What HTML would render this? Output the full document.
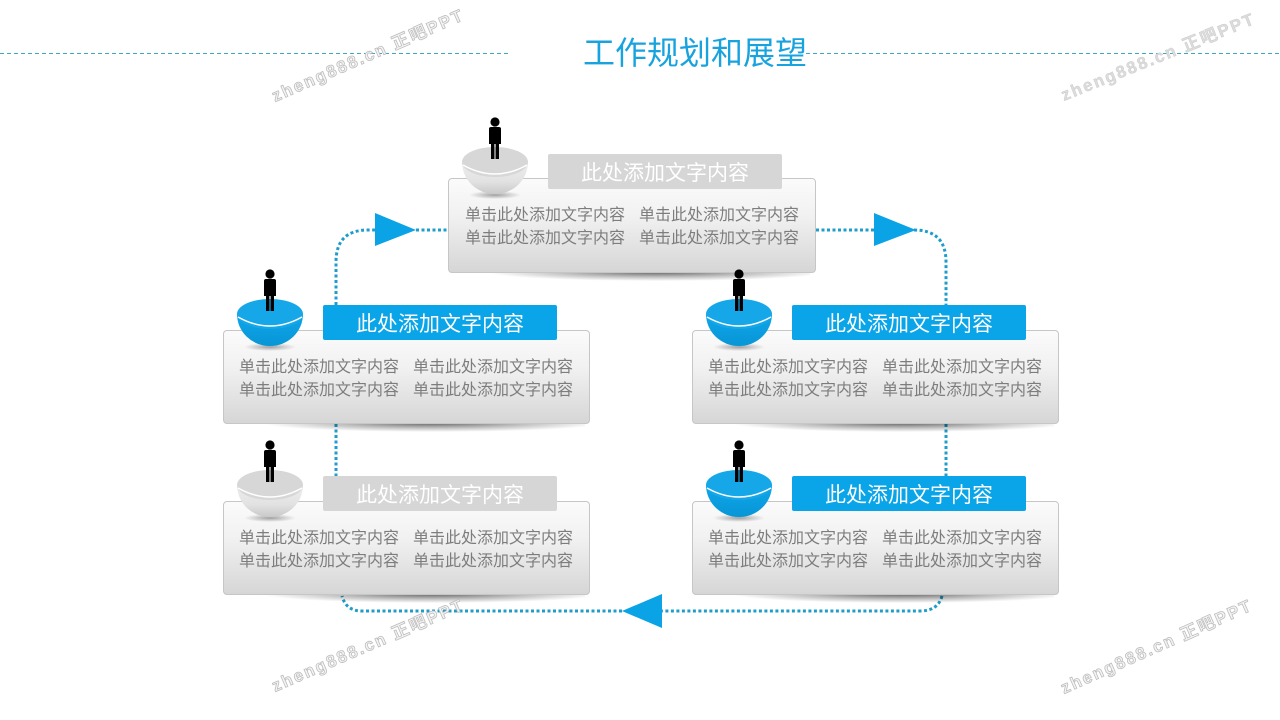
<!DOCTYPE html>
<html><head><meta charset="utf-8">
<style>
html,body{margin:0;padding:0;background:#fff;}
#stage{position:relative;width:1280px;height:720px;overflow:hidden;background:#fff;font-family:"Liberation Sans","Noto Sans CJK SC",sans-serif;}
.box{position:absolute;width:366px;height:94px;border:1px solid #c6c6c6;border-radius:4px;background:linear-gradient(#fbfbfb 0%,#f1f1f1 40%,#d6d6d6 100%);box-sizing:border-box;z-index:2;}
.shadow{position:absolute;height:9px;z-index:1;background:radial-gradient(ellipse 50% 100% at 55% 0%,rgba(0,0,0,0.6) 0%,rgba(0,0,0,0.25) 55%,rgba(0,0,0,0) 100%);}
.hdr{position:absolute;width:234px;height:35px;border-radius:2px;color:#fff;font-size:21px;line-height:39px;text-align:center;z-index:3;font-family:"Liberation Sans","Noto Sans CJK SC",sans-serif;}
.blue{background:#0aa5e8;}
.gray{background:#d6d6d6;}
.txt{position:absolute;color:#7d7d7d;font-size:16px;line-height:23px;white-space:nowrap;z-index:3;font-family:"Liberation Sans","Noto Sans CJK SC",sans-serif;}
.title{position:absolute;left:583px;top:34px;font-size:32px;line-height:38px;color:#18a3de;white-space:nowrap;font-family:"Liberation Sans","Noto Sans CJK SC",sans-serif;}
svg{position:absolute;left:0;top:0;}
</style></head>
<body><div id="stage">

<svg width="1280" height="720" style="z-index:0">
  <g stroke="#3ca8c6" stroke-width="1" stroke-dasharray="4 3" fill="none">
    <line x1="0" y1="53.5" x2="510" y2="53.5"/>
    <line x1="806" y1="53.5" x2="1280" y2="53.5"/>
  </g>
  <g stroke="#1f9dca" stroke-width="3" stroke-dasharray="3 2.5" fill="none">
    <path d="M336,305 L336,262 Q336,230 368,230 L378,230"/>
    <path d="M416,230 L448,230"/>
    <path d="M816,230 L876,230"/>
    <path d="M914,230 Q946,230 946,262 L946,305"/>
    <path d="M336,424 L336,476"/>
    <path d="M946,424 L946,476"/>
    <path d="M942,596 Q938,611 920,611 L662,611"/>
    <path d="M622,611 L362,611 Q346,611 342,596"/>
  </g>
  <g fill="#0aa3e6">
    <polygon points="375,213 416,230 375,246"/>
    <polygon points="874,213 916,230 874,246"/>
    <polygon points="662,594 622,611 662,628"/>
  </g>
</svg>

<div class="title">工作规划和展望</div>

<div class="shadow" style="left:470px;top:272px;width:340px;"></div>
<div class="box" style="left:448px;top:178px;width:368px;height:95px;"></div>
<div class="hdr gray" style="left:548px;top:154px;">此处添加文字内容</div>
<div class="txt" style="left:465px;top:204px;">单击此处添加文字内容<br>单击此处添加文字内容</div>
<div class="txt" style="left:639px;top:204px;">单击此处添加文字内容<br>单击此处添加文字内容</div>

<div class="shadow" style="left:245px;top:423px;width:340px;"></div>
<div class="box" style="left:223px;top:330px;width:367px;"></div>
<div class="hdr blue" style="left:323px;top:305px;">此处添加文字内容</div>
<div class="txt" style="left:239px;top:356px;">单击此处添加文字内容<br>单击此处添加文字内容</div>
<div class="txt" style="left:413px;top:356px;">单击此处添加文字内容<br>单击此处添加文字内容</div>

<div class="shadow" style="left:714px;top:423px;width:340px;"></div>
<div class="box" style="left:692px;top:330px;width:367px;"></div>
<div class="hdr blue" style="left:792px;top:305px;">此处添加文字内容</div>
<div class="txt" style="left:708px;top:356px;">单击此处添加文字内容<br>单击此处添加文字内容</div>
<div class="txt" style="left:882px;top:356px;">单击此处添加文字内容<br>单击此处添加文字内容</div>

<div class="shadow" style="left:245px;top:594px;width:340px;"></div>
<div class="box" style="left:223px;top:501px;width:367px;"></div>
<div class="hdr gray" style="left:323px;top:476px;">此处添加文字内容</div>
<div class="txt" style="left:239px;top:527px;">单击此处添加文字内容<br>单击此处添加文字内容</div>
<div class="txt" style="left:413px;top:527px;">单击此处添加文字内容<br>单击此处添加文字内容</div>

<div class="shadow" style="left:714px;top:594px;width:340px;"></div>
<div class="box" style="left:692px;top:501px;width:367px;"></div>
<div class="hdr blue" style="left:792px;top:476px;">此处添加文字内容</div>
<div class="txt" style="left:708px;top:527px;">单击此处添加文字内容<br>单击此处添加文字内容</div>
<div class="txt" style="left:882px;top:527px;">单击此处添加文字内容<br>单击此处添加文字内容</div>

<svg width="1280" height="720" style="z-index:4">
  <defs>
    <linearGradient id="gb" x1="0" y1="0" x2="0" y2="1">
      <stop offset="0" stop-color="#eeeeee"/>
      <stop offset="0.6" stop-color="#e2e2e2"/>
      <stop offset="1" stop-color="#c9c9c9"/>
    </linearGradient>
    <linearGradient id="bb" x1="0" y1="0" x2="0" y2="1">
      <stop offset="0" stop-color="#0ea6ea"/>
      <stop offset="1" stop-color="#0896d6"/>
    </linearGradient>
    <radialGradient id="bs" cx="0.5" cy="0.5" r="0.5">
      <stop offset="0" stop-color="rgba(0,0,0,0.35)"/>
      <stop offset="1" stop-color="rgba(0,0,0,0)"/>
    </radialGradient>
    <g id="person">
      <circle cx="0" cy="-40" r="4.6"/>
      <path d="M-6,-33 Q-6,-35 -4,-35 L4,-35 Q6,-35 6,-33 L6,-18 L-6,-18 Z"/>
      <rect x="-4" y="-19" width="3.4" height="16"/>
      <rect x="0.6" y="-19" width="3.4" height="16"/>
    </g>
  </defs>

  <g transform="translate(495,162)">
    <ellipse cx="0" cy="33" rx="26" ry="4" fill="url(#bs)"/>
    <path d="M-33,0 A33,32 0 0 0 33,0 Z" fill="url(#gb)"/>
    <ellipse cx="0" cy="0" rx="33" ry="15" fill="#d7d7d7"/>
    <path d="M-32,3 Q0,21 32,3" stroke="#fff" stroke-width="1.5" fill="none"/>
    <use href="#person" fill="#000"/>
  </g>
  <g transform="translate(270,314)">
    <ellipse cx="0" cy="33" rx="26" ry="4" fill="url(#bs)"/>
    <path d="M-33,0 A33,32 0 0 0 33,0 Z" fill="url(#bb)"/>
    <ellipse cx="0" cy="0" rx="33" ry="15" fill="#16a7e8"/>
    <path d="M-32,3 Q0,21 32,3" stroke="#fff" stroke-width="1.5" fill="none"/>
    <use href="#person" fill="#000"/>
  </g>
  <g transform="translate(739,314)">
    <ellipse cx="0" cy="33" rx="26" ry="4" fill="url(#bs)"/>
    <path d="M-33,0 A33,32 0 0 0 33,0 Z" fill="url(#bb)"/>
    <ellipse cx="0" cy="0" rx="33" ry="15" fill="#16a7e8"/>
    <path d="M-32,3 Q0,21 32,3" stroke="#fff" stroke-width="1.5" fill="none"/>
    <use href="#person" fill="#000"/>
  </g>
  <g transform="translate(270,485)">
    <ellipse cx="0" cy="33" rx="26" ry="4" fill="url(#bs)"/>
    <path d="M-33,0 A33,32 0 0 0 33,0 Z" fill="url(#gb)"/>
    <ellipse cx="0" cy="0" rx="33" ry="15" fill="#d7d7d7"/>
    <path d="M-32,3 Q0,21 32,3" stroke="#fff" stroke-width="1.5" fill="none"/>
    <use href="#person" fill="#000"/>
  </g>
  <g transform="translate(739,485)">
    <ellipse cx="0" cy="33" rx="26" ry="4" fill="url(#bs)"/>
    <path d="M-33,0 A33,32 0 0 0 33,0 Z" fill="url(#bb)"/>
    <ellipse cx="0" cy="0" rx="33" ry="15" fill="#16a7e8"/>
    <path d="M-32,3 Q0,21 32,3" stroke="#fff" stroke-width="1.5" fill="none"/>
    <use href="#person" fill="#000"/>
  </g>

  <g font-family="Liberation Sans, Noto Sans CJK SC, sans-serif" font-size="17" font-weight="bold" letter-spacing="2" fill="#f4f4f4" stroke="#bdbdbd" stroke-width="0.8">
    <text x="275" y="102" transform="rotate(-23.5 275 102)">zheng888.cn 正吧PPT</text>
    <text x="1064" y="101" transform="rotate(-22 1064 101)" fill="#dcdcdc" stroke="#c8c8c8" stroke-width="0.4">zheng888.cn 正吧PPT</text>
    <text x="275" y="692" transform="rotate(-23.5 275 692)">zheng888.cn 正吧PPT</text>
    <text x="1064" y="694" transform="rotate(-24 1064 694)">zheng888.cn 正吧PPT</text>
  </g>
</svg>

</div></body></html>
